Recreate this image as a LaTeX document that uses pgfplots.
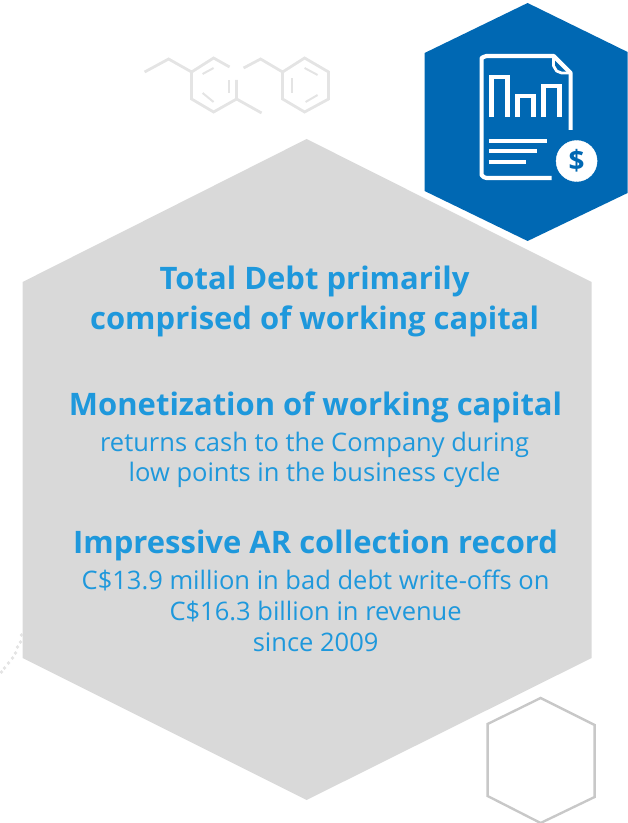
\documentclass[border=0pt]{standalone}
\usepackage{fontspec}
\setmainfont{Open Sans}
\usepackage{pgfplots}
\pgfplotsset{compat=1.18}
\definecolor{hexgrey}{HTML}{D9D9D9}
\definecolor{hexblue}{HTML}{0068B3}
\definecolor{txtblue}{HTML}{1E98DC}
\definecolor{molgrey}{HTML}{E4E4E4}
\definecolor{ringgrey}{HTML}{C8C8C8}
\newcommand{\headfont}{\fontsize{31.1}{36}\selectfont\bfseries\color{txtblue}}
\newcommand{\bodyfont}{\fontsize{25.6}{30}\selectfont\color{txtblue}}
\begin{document}
\begin{tikzpicture}
\begin{axis}[
  scale only axis,
  width=627bp, height=823bp,
  xmin=0, xmax=627, ymin=0, ymax=823,
  y dir=reverse,
  hide axis,
  clip=true,
]
% keeps the page as large as the whole axis
\addplot[draw=none] coordinates {(0,0)(627,823)};
% dotted arc behind the grey hexagon
\addplot[only marks, mark=*, mark size=1.6pt, color=molgrey] coordinates {
  (21,635)(20,642)(17,647)(15,653)(12,658)(8,663)(4,668)(1,672)
};
% main grey hexagon
\addplot[fill=hexgrey, draw=none] coordinates {
  (306,139)(591,282)(591,658)(306,800)(22,658)(22,282)
} -- cycle;
% blue hexagon
\addplot[fill=hexblue, draw=none] coordinates {
  (527,3)(627,52)(627,193)(527,241)(424,191)(424,53)
} -- cycle;
% outlined hexagon bottom right
\addplot[draw=ringgrey, line width=2.4pt, line join=miter] coordinates {
  (540,698)(594,725)(594,797)(540,823)(487,796)(487,724)
} -- cycle;
% molecule
\addplot[draw=molgrey, line width=2.8pt] coordinates {(144,72)(168,59)(191,72)(213,58)(229,67)};
\addplot[draw=molgrey, line width=2.8pt] coordinates {(191,72)(191,99)(213,112)(236,99)(236,80)};
\addplot[draw=molgrey, line width=2.8pt] coordinates {(236,99)(261,113)};
\addplot[draw=molgrey, line width=2pt] coordinates {(202,74)(213,68)};
\addplot[draw=molgrey, line width=2pt] coordinates {(228,80)(228,93)};
\addplot[draw=molgrey, line width=2pt] coordinates {(202,93)(213,102)};
\addplot[draw=molgrey, line width=2.8pt] coordinates {(243,68)(260,59)(282,72)};
\addplot[draw=molgrey, line width=2.8pt] coordinates {
  (282,72)(304,58)(328,72)(328,99)(304,112)(282,99)
} -- cycle;
\addplot[draw=molgrey, line width=2pt] coordinates {(304,68)(317,75)};
\addplot[draw=molgrey, line width=2pt] coordinates {(291,78)(291,93)};
\addplot[draw=molgrey, line width=2pt] coordinates {(305,102)(317,95)};
% document icon
\addplot[draw=white, line width=4.2pt, line join=round, line cap=butt] coordinates {
  (551,178)(486,178)(483,177)(481,175)(481,58)(483,57)(486,56)(553,56)(570,73)(570,130)
};
\addplot[draw=white, line width=2.8pt, line join=round] coordinates {(553,57)(553,66)(556,71)(561,73)(569,73)};
\addplot[draw=white, line width=4.6pt, line join=miter] coordinates {(491,117)(491,77)(507,77)(507,117)};
\addplot[draw=white, line width=4.6pt, line join=miter] coordinates {(517,117)(517,96)(533,96)(533,117)};
\addplot[draw=white, line width=4.6pt, line join=miter] coordinates {(543,117)(543,86)(559,86)(559,117)};
\addplot[draw=white, line width=5pt] coordinates {(488,141)(546,141)};
\addplot[draw=white, line width=5pt] coordinates {(488,151)(536,151)};
\addplot[draw=white, line width=5pt] coordinates {(488,162)(525,162)};
\addplot[only marks, mark=*, mark size=20.5bp, color=white] coordinates {(576,161)};
\addplot[only marks, mark=text, text mark={\fontsize{28}{30}\selectfont\bfseries\color{hexblue}\$}, color=hexblue] coordinates {(576,161)};
% text
\node[font=\headfont, anchor=base] at (axis cs:314,289) {Total Debt primarily};
\node[font=\headfont, anchor=base] at (axis cs:314,329) {comprised of working capital};
\node[font=\headfont, anchor=base] at (axis cs:315,415) {Monetization of working capital};
\node[font=\bodyfont, anchor=base] at (axis cs:314,451) {returns cash to the Company during};
\node[font=\bodyfont, anchor=base] at (axis cs:314,481) {low points in the business cycle};
\node[font=\headfont, anchor=base] at (axis cs:315,553) {Impressive AR collection record};
\node[font=\bodyfont, anchor=base] at (axis cs:315,589) {C\$13.9 million in bad debt write-offs on};
\node[font=\bodyfont, anchor=base] at (axis cs:315,620) {C\$16.3 billion in revenue};
\node[font=\bodyfont, anchor=base] at (axis cs:315,651) {since 2009};
\end{axis}
\end{tikzpicture}
\end{document}
